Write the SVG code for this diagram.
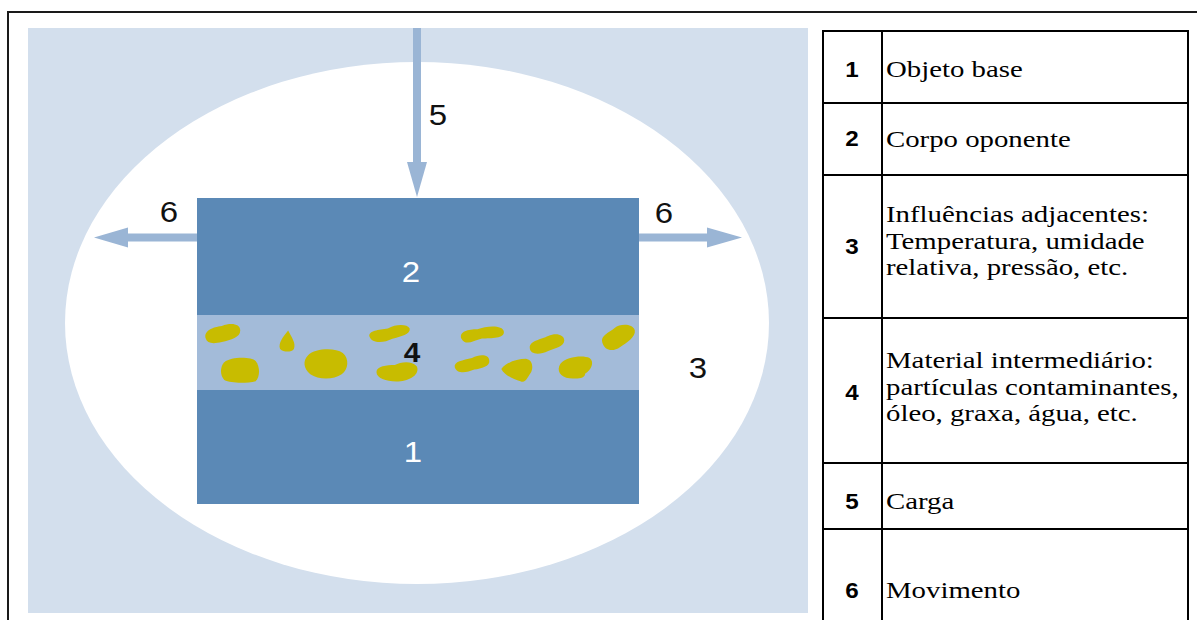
<svg xmlns="http://www.w3.org/2000/svg" width="1197" height="620" viewBox="0 0 1197 620">
  <style>
    .lbl { font-family: "Liberation Sans", Arial, sans-serif; font-size: 30px; fill: #111; text-anchor: middle; }
    .lblw { fill: #ffffff; }
    .num { font-family: "Liberation Sans", Arial, sans-serif; font-size: 22px; font-weight: bold; fill: #000; text-anchor: middle; }
    .desc { font-family: "Liberation Serif", "Times New Roman", serif; font-size: 24px; fill: #000; }
    .block { fill: #5b89b6; }
    .layer { fill: #a3bbd9; }
    .blob { fill: #c8bc00; }
    .arrow { fill: #9ab5d5; }
    .tbl { stroke: #000; stroke-width: 2; fill: none; }
  </style>

  <rect x="0" y="0" width="1197" height="620" fill="#ffffff"/>
  <!-- outer frame -->
  <path d="M8,620 V12 H1197" fill="none" stroke="#1a1a1a" stroke-width="2"/>

  <!-- background panel and ellipse -->
  <g id="environment">
    <rect x="28" y="28" width="780" height="585" fill="#d3dfed"/>
    <ellipse cx="417" cy="323" rx="352" ry="261" fill="#ffffff"/>
    <text class="lbl" transform="translate(698 378) scale(1.1 1)">3</text>
  </g>

  <g id="node-2">
    <rect class="block" x="197" y="198" width="442" height="117"/>
    <text class="lbl lblw" transform="translate(411 282) scale(1.1 1)">2</text>
  </g>

  <g id="node-4">
    <rect class="layer" x="197" y="315" width="442" height="75"/>
    <path class="blob" transform="translate(223 334) scale(1.15) translate(-223 -334)" d="M208,338 C206,331 214,328 222,327 C230,324 238,325 238,331 C238,337 230,339 222,341 C214,343 209,342 208,338 Z"/>
    <path class="blob" transform="translate(287 342) scale(1.15) translate(-287 -342)" d="M288,332 C291,338 295,343 293,348 C291,351 284,351 281,348 C279,343 284,337 288,332 Z"/>
    <path class="blob" transform="translate(240 370) scale(1.12) translate(-240 -370)" d="M226,363 C232,358 250,358 254,362 C258,367 258,376 254,380 C246,382 232,382 226,379 C222,375 222,367 226,363 Z"/>
    <path class="blob" transform="translate(326 363) scale(1.12) translate(-326 -363)" d="M310,356 C316,350 334,349 341,354 C347,359 346,369 340,373 C333,378 319,378 312,373 C306,368 305,361 310,356 Z"/>
    <path class="blob" transform="translate(389 333) scale(1.15) translate(-389 -333)" d="M372,336 C371,331 380,330 388,329 C395,325 405,325 407,329 C408,334 399,336 392,338 C384,342 374,342 372,336 Z"/>
    <path class="blob" transform="translate(396 372) scale(1.15) translate(-396 -372)" d="M379,372 C379,367 388,366 395,366 C400,363 410,362 414,367 C417,373 410,379 400,380 C390,381 379,378 379,372 Z"/>
    <path class="blob" transform="translate(482 335) scale(1.15) translate(-482 -335)" d="M464,338 C462,332 470,330 478,330 C486,327 500,326 501,332 C502,338 490,338 482,338 C474,340 468,345 464,338 Z"/>
    <path class="blob" transform="translate(472 365) scale(1.15) translate(-472 -365)" d="M457,367 C456,362 464,361 472,359 C479,355 487,356 487,361 C488,366 480,368 474,369 C467,372 459,373 457,367 Z"/>
    <path class="blob" transform="translate(547 344) scale(1.15) translate(-547 -344)" d="M532,347 C532,341 542,340 548,337 C555,334 562,336 562,341 C562,346 554,348 548,350 C540,354 532,353 532,347 Z"/>
    <path class="blob" transform="translate(517 370) scale(1.12) translate(-517 -370)" d="M503,369 C508,363 517,360 525,360 C531,361 532,368 529,373 C526,377 525,382 520,380 C514,378 506,375 503,369 Z"/>
    <path class="blob" transform="translate(575 367) scale(1.12) translate(-575 -367)" d="M562,364 C567,358 582,356 588,359 C593,363 589,370 584,373 C584,377 578,378 570,377 C562,376 558,370 562,364 Z"/>
    <path class="blob" transform="translate(618 338) scale(1.12) translate(-618 -338)" d="M604,342 C602,336 610,333 615,329 C620,325 631,325 633,331 C634,337 626,342 620,346 C613,351 606,349 604,342 Z"/>
    <text class="lbl" style="font-weight:bold;font-size:27px" transform="translate(412 362) scale(1.1 1)">4</text>
  </g>

  <g id="node-1">
    <rect class="block" x="197" y="390" width="442" height="114"/>
    <text class="lbl lblw" transform="translate(413 462) scale(1.1 1)">1</text>
  </g>

  <g id="connectors">
    <g id="arrow-5">
      <rect class="arrow" x="413" y="28" width="8" height="136"/>
      <polygon class="arrow" points="407,162 427,162 417,197"/>
      <text class="lbl" transform="translate(438 125) scale(1.1 1)">5</text>
    </g>
    <g id="arrow-6-left">
      <rect class="arrow" x="127" y="233.5" width="70" height="8"/>
      <polygon class="arrow" points="128,227.5 128,247.5 94,237.5"/>
      <text class="lbl" transform="translate(169 222) scale(1.1 1)">6</text>
    </g>
    <g id="arrow-6-right">
      <rect class="arrow" x="639" y="233.5" width="70" height="8"/>
      <polygon class="arrow" points="707,227.5 707,247.5 742,237.5"/>
      <text class="lbl" transform="translate(664 223) scale(1.1 1)">6</text>
    </g>
  </g>

  <g id="legend">
    <path class="tbl" d="M823,620 V31 H1188 V620 M882,31 V620 M823,103 H1188 M823,175 H1188 M823,318 H1188 M823,463 H1188 M823,529 H1188"/>
    <g id="row-1">
      <text class="num" transform="translate(852 77) scale(1.1 1)">1</text>
      <text class="desc" transform="translate(886 77) scale(1.2 1)">Objeto base</text>
    </g>
    <g id="row-2">
      <text class="num" transform="translate(852 146) scale(1.1 1)">2</text>
      <text class="desc" transform="translate(886 147) scale(1.2 1)">Corpo oponente</text>
    </g>
    <g id="row-3">
      <text class="num" transform="translate(852 254) scale(1.1 1)">3</text>
      <text class="desc" transform="translate(886 222) scale(1.2 1)">Influências adjacentes:</text>
      <text class="desc" transform="translate(886 248.5) scale(1.2 1)">Temperatura, umidade</text>
      <text class="desc" transform="translate(886 275) scale(1.2 1)">relativa, pressão, etc.</text>
    </g>
    <g id="row-4">
      <text class="num" transform="translate(852 400) scale(1.1 1)">4</text>
      <text class="desc" transform="translate(886 368) scale(1.2 1)">Material intermediário:</text>
      <text class="desc" transform="translate(886 394.5) scale(1.2 1)">partículas contaminantes,</text>
      <text class="desc" transform="translate(886 421) scale(1.2 1)">óleo, graxa, água, etc.</text>
    </g>
    <g id="row-5">
      <text class="num" transform="translate(852 509) scale(1.1 1)">5</text>
      <text class="desc" transform="translate(886 509) scale(1.2 1)">Carga</text>
    </g>
    <g id="row-6">
      <text class="num" transform="translate(852 598) scale(1.1 1)">6</text>
      <text class="desc" transform="translate(886 598) scale(1.2 1)">Movimento</text>
    </g>
  </g>
</svg>
